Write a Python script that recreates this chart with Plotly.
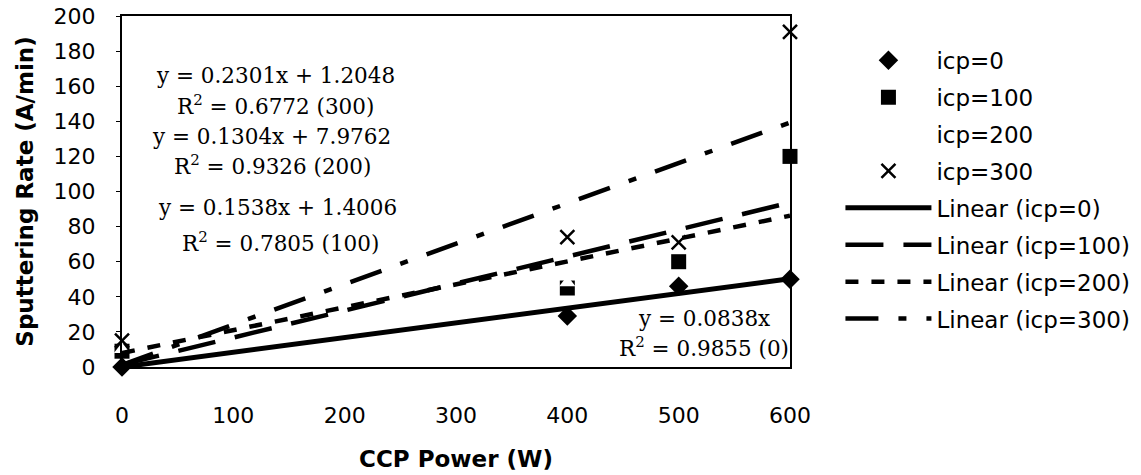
import plotly.graph_objects as go

# ---- data ----
ccp_power = [0, 400, 500, 600]
icp0 = [0, 29, 46, 50]
icp100 = [9, 45, 60, 120]
icp200 = [10, 48, 74, 92]
icp300 = [15, 74, 71, 191]

series_names = ["icp=0", "icp=100", "icp=200", "icp=300"]
trend_slopes = [0.0838, 0.1538, 0.1304, 0.2301]
trend_intercepts = [0.0, 1.4006, 7.9762, 1.2048]
trend_x = [0, 600]

x_ticks = [0, 100, 200, 300, 400, 500, 600]
y_ticks = [0, 20, 40, 60, 80, 100, 120, 140, 160, 180, 200]

eq_texts = [
    "y = 0.2301x + 1.2048",
    "R<sup>2</sup> = 0.6772 (300)",
    "y = 0.1304x + 7.9762",
    "R<sup>2</sup> = 0.9326 (200)",
    "y = 0.1538x + 1.4006",
    "R<sup>2</sup> = 0.7805 (100)",
]
eq0_texts = ["y = 0.0838x", "R<sup>2</sup> = 0.9855 (0)"]

# ---- figure ----
fig = go.Figure()

marker_styles = [
    dict(symbol="diamond", size=15, color="black"),
    dict(symbol="square", size=15, color="black"),
    dict(symbol="triangle-up", size=14, color="white"),
    dict(symbol="x-thin", size=14, color="black", line=dict(width=2.5, color="black")),
]
for i, (name, ys, ms) in enumerate(zip(series_names, [icp0, icp100, icp200, icp300], marker_styles)):
    fig.add_trace(go.Scatter(x=ccp_power, y=ys, mode="markers", name=name,
                             legendgroup=f"m{i}",
                             marker=ms, cliponaxis=False))

dashes = ["solid", "38px,20px", "13px,13px", "33px,20px,8px,20px"]
widths = [5, 4.5, 4.5, 4.5]
for i, (name, m, b, d, w) in enumerate(zip(series_names, trend_slopes, trend_intercepts, dashes, widths)):
    fig.add_trace(go.Scatter(x=trend_x, y=[m * xv + b for xv in trend_x], mode="lines",
                             name=f"Linear ({name})", legendgroup=f"l{i}",
                             line=dict(color="black", width=w, dash=d), cliponaxis=False))

serif = "DejaVu Serif"
eq_y_px = [75, 105, 136, 165, 207, 242]
eq_x_px = [275, 275, 271, 272, 277, 280]
for t, xp, yp in zip(eq_texts, eq_x_px, eq_y_px):
    fig.add_annotation(text=t, xref="paper", yref="paper",
                       x=(xp - 122) / 668, y=1 - (yp - 16) / 351,
                       xanchor="center", yanchor="middle", showarrow=False,
                       font=dict(family=serif, size=21.5, color="black"))
for t, yp in zip(eq0_texts, [318, 347]):
    fig.add_annotation(text=t, xref="paper", yref="paper",
                       x=(704 - 122) / 668, y=1 - (yp - 16) / 351,
                       xanchor="center", yanchor="middle", showarrow=False,
                       font=dict(family=serif, size=21.5, color="black"))

sans = "DejaVu Sans"
fig.update_layout(
    width=1141, height=475,
    margin=dict(l=122, r=351, t=16, b=108, autoexpand=False),
    paper_bgcolor="white", plot_bgcolor="white",
    font=dict(family=sans, size=22, color="black"),
    showlegend=True,
    legend=dict(x=1.0755, y=0.935, xanchor="left", yanchor="top",
                font=dict(family=sans, size=23, color="black"),
                itemwidth=86, bgcolor="rgba(0,0,0,0)", tracegroupgap=4.0),
    xaxis=dict(range=[0, 600], tickvals=x_ticks, showgrid=False, zeroline=False,
               showline=True, linecolor="black", linewidth=2, mirror=True,
               ticks="", ticklabelstandoff=28,
               title=dict(text="<b>CCP Power (W)</b>", standoff=23,
                          font=dict(family=sans, size=23))),
    yaxis=dict(range=[0, 200], tickvals=y_ticks, showgrid=False, zeroline=False,
               showline=True, linecolor="black", linewidth=2, mirror=True,
               ticks="outside", ticklen=4, tickcolor="black", ticklabelstandoff=16,
               title=dict(text="<b>Sputtering Rate (A/min)</b>", standoff=14,
                          font=dict(family=sans, size=23))),
)

fig.write_html("out.html")
